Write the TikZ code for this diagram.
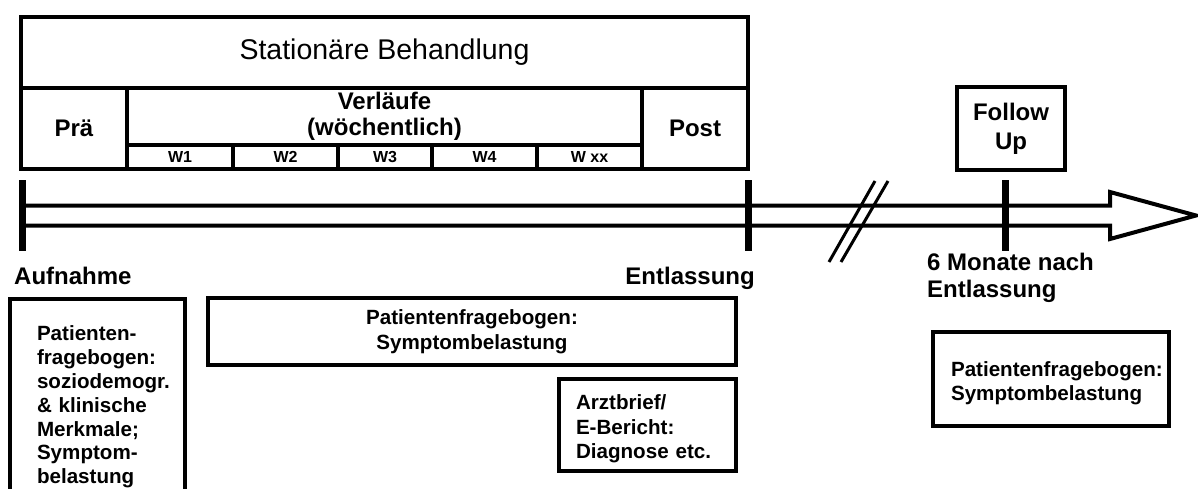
\documentclass[tikz,border=0pt]{standalone}
\usepackage{fontspec}
\setmainfont{Liberation Sans}
\hyphenpenalty=10000
\exhyphenpenalty=10000
\begin{document}
\begin{tikzpicture}[x=1pt, y=-1pt,
    cell/.style={draw, line width=3.5pt, inner sep=0pt, align=center, font=\fontsize{24}{26}\selectfont\bfseries},
    week/.style={draw, line width=3.5pt, inner sep=0pt, minimum height=24, font=\fontsize{16}{18}\selectfont\bfseries},
    box/.style={draw, line width=3.2pt, inner ysep=0pt, align=left, font=\fontsize{20.6}{24.5}\selectfont\bfseries,
        execute at begin node={\rule{0pt}{23pt}}},
    lbl/.style={inner sep=0pt, font=\fontsize{24}{27}\selectfont\bfseries},
    shaft/.style={line width=4pt, line join=miter},
    timetick/.style={line width=7pt},
    brk/.style={line width=3pt}
]
    \useasboundingbox (0,0) rectangle (1198,489);

    % Stationary block
    \node[cell, minimum width=727, minimum height=71, font=\fontsize{28.5}{32}\selectfont] (stat) at (384.5,52.5) {Stationäre Behandlung};
    \node[cell, minimum width=106, minimum height=81] (prae) at (74,128.5) {Prä};
    \node[cell, minimum width=515, minimum height=57] (verl) at (384.5,116.5) {Verläufe\\(wöchentlich)};
    \node[cell, minimum width=106, minimum height=81] (post) at (695,128.5) {Post};
    \foreach \xa/\xb/\wk [count=\i] in {127/233/W1, 233/338/W2, 338/432/W3, 432/537/W4, 537/642/W xx}
        \node[week, minimum width=\xb-\xa] (w\i) at ({(\xa+\xb)/2},157) {\wk};

    % Follow up
    \node[cell, minimum width=108, minimum height=83, font=\fontsize{24}{29}\selectfont\bfseries,
        execute at begin node={\rule{0pt}{24pt}}] (fu) at (1011,128.5) {Follow\\Up};

    % Timeline
    \coordinate (aufn) at (22,215.5);
    \coordinate (entl) at (748,215.5);
    \coordinate (fup) at (1005,215.5);
    \coordinate (tip) at (1196,215.5);
    \draw[shaft] (aufn) ++(0,-10) -- (1110,205.5) -- (1110,192) -- (tip) -- (1110,239) -- (1110,225.5) -- (22,225.5);
    \foreach \t in {aufn,entl,fup}
        \draw[timetick] (\t) ++(0,-35) -- ++(0,70);

    % Break
    \draw[brk] (875,181) -- (829,262);
    \draw[brk] (888,181) -- (841,262);

    % Labels
    \node[lbl, anchor=base west] (lauf) at (14,284) {Aufnahme};
    \node[lbl, anchor=base east] (lent) at (755,284) {Entlassung};
    \node[lbl, anchor=west, align=left] (lfu) at (927,278) {6 Monate nach\\Entlassung};

    % Data sources
    \node[box, text width=121, inner xsep=27, minimum height=208, font=\fontsize{20.6}{23.8}\selectfont\bfseries] (fbA) at (97.5,403) {Patienten-\\fragebogen:\\soziodemogr.\\\& klinische\\Merkmale;\\Symptom-\\belastung};
    \node[box, align=center, minimum width=528, minimum height=67] (fbS) at (472,331.5) {Patientenfragebogen:\\Symptombelastung};
    \node[box, text width=143, inner xsep=17, minimum height=92] (arzt) at (647.5,425) {Arztbrief/\\E-Bericht:\\Diagnose etc.};
    \node[box, text width=200, inner xsep=18, minimum height=94] (fbF) at (1051,379) {Patientenfragebogen:\\Symptombelastung};

\end{tikzpicture}
\end{document}
